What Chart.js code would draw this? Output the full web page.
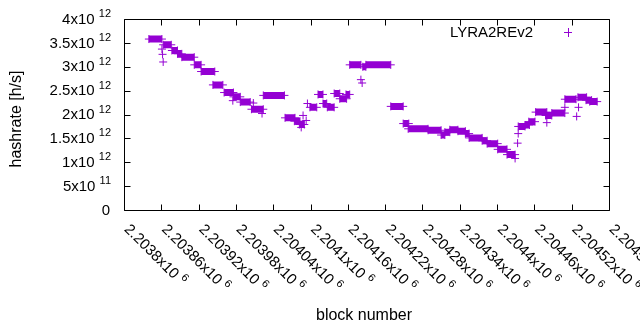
<!DOCTYPE html>
<html>
<head>
<meta charset="utf-8">
<script src="https://cdn.jsdelivr.net/npm/chart.js@4/dist/chart.umd.min.js"></script>
<style>
  html, body { margin: 0; padding: 0; background: #ffffff; }
  #wrap { width: 640px; height: 330px; }
</style>
</head>
<body>
<div id="wrap"><canvas id="c" width="640" height="330"></canvas></div>
<script>
// ---- data ----
const seriesName = 'LYRA2REv2';

// runs of consecutive blocks with the same hashrate estimate
const segStart = [2203840, 2203863, 2203877, 2203886, 2203893, 2203913, 2203924, 2203943, 2203961, 2203976,
                  2203987, 2204005, 2204024, 2204059, 2204074, 2204082, 2204099, 2204112, 2204120, 2204127,
                  2204138, 2204147, 2204157, 2204163, 2204184, 2204189, 2204229, 2204249, 2204257, 2204289,
                  2204310, 2204316, 2204324, 2204337, 2204349, 2204355, 2204376, 2204384, 2204401, 2204416,
                  2204434, 2204445, 2204451, 2204462, 2204478, 2204488, 2204509, 2204530, 2204543, 2204549];
const segEnd   = [2203861, 2203876, 2203886, 2203893, 2203913, 2203924, 2203946, 2203959, 2203976, 2203987,
                  2204003, 2204024, 2204058, 2204075, 2204083, 2204090, 2204110, 2204120, 2204126, 2204138,
                  2204147, 2204158, 2204163, 2204181, 2204189, 2204229, 2204249, 2204258, 2204289, 2204310,
                  2204316, 2204324, 2204337, 2204349, 2204355, 2204376, 2204384, 2204401, 2204416, 2204429,
                  2204445, 2204452, 2204461, 2204480, 2204488, 2204509, 2204527, 2204544, 2204552, 2204561];
const segValue = [3.58e12, 3.46e12, 3.34e12, 3.27e12, 3.20e12, 3.04e12, 2.90e12, 2.62e12, 2.46e12, 2.37e12,
                  2.26e12, 2.11e12, 2.40e12, 1.93e12, 1.86e12, 1.79e12, 2.15e12, 2.42e12, 2.23e12, 2.15e12,
                  2.44e12, 2.33e12, 2.42e12, 3.04e12, 3.00e12, 3.04e12, 2.17e12, 1.81e12, 1.70e12, 1.67e12,
                  1.57e12, 1.63e12, 1.68e12, 1.65e12, 1.60e12, 1.51e12, 1.45e12, 1.39e12, 1.27e12, 1.16e12,
                  1.75e12, 1.78e12, 1.85e12, 2.05e12, 1.98e12, 2.03e12, 2.32e12, 2.36e12, 2.30e12, 2.27e12];

// isolated blocks
const singleBlock = [2203861, 2203862, 2203863, 2203975, 2204008, 2204022, 2204085, 2204088, 2204093, 2204095,
                     2204181, 2204183, 2204429, 2204433, 2204434, 2204480, 2204509, 2204528, 2204531];
const singleValue = [3.37e12, 3.26e12, 3.10e12, 2.29e12, 2.24e12, 2.02e12, 1.73e12, 1.98e12, 1.875e12, 2.23e12,
                     2.73e12, 2.66e12, 1.08e12, 1.40e12, 1.60e12, 1.83e12, 2.15e12, 1.96e12, 2.15e12];

// tick labels
const xTickValues   = [2203800, 2203860, 2203920, 2203980, 2204040, 2204100, 2204160,
                       2204220, 2204280, 2204340, 2204400, 2204460, 2204520, 2204580];
const xTickMantissa = ['2.2038', '2.20386', '2.20392', '2.20398', '2.20404', '2.2041', '2.20416',
                       '2.20422', '2.20428', '2.20434', '2.2044', '2.20446', '2.20452', '2.20458'];
const xTickExponent = ['6', '6', '6', '6', '6', '6', '6', '6', '6', '6', '6', '6', '6', '6'];
const yTickValues   = [0, 5e11, 1e12, 1.5e12, 2e12, 2.5e12, 3e12, 3.5e12, 4e12];
const yTickMantissa = ['0', '5', '1', '1.5', '2', '2.5', '3', '3.5', '4'];
const yTickExponent = ['', '11', '12', '12', '12', '12', '12', '12', '12'];

const xTitle = 'block number';
const yTitle = 'hashrate [h/s]';

// ---- build library data ----
const segData = [];
for (let i = 0; i < segStart.length; i++) {
  segData.push({ x: segStart[i], y: segValue[i] });
  segData.push({ x: segEnd[i], y: segValue[i] });
  segData.push({ x: segEnd[i], y: null });
}
const singleData = singleBlock.map((b, i) => ({ x: b, y: singleValue[i] }));

const PURPLE = '#9400d3';
const FONT = '"Liberation Sans", Arial, sans-serif';

const decor = {
  id: 'decor',
  afterDraw(chart) {
    const ctx = chart.ctx;
    const a = chart.chartArea;
    const xs = chart.scales.x, ys = chart.scales.y;
    const L = Math.round(a.left) + 0.5, R = Math.round(a.right) + 0.5;
    const T = Math.round(a.top) + 0.5, B = Math.round(a.bottom) + 0.5;
    ctx.save();
    ctx.strokeStyle = '#000';
    ctx.lineWidth = 1;
    ctx.beginPath();
    ctx.rect(L, T, R - L, B - T);
    // ticks
    const tl = 6;
    yTickValues.forEach(v => {
      const y = Math.round(ys.getPixelForValue(v)) + 0.5;
      ctx.moveTo(L, y); ctx.lineTo(L + tl, y);
      ctx.moveTo(R, y); ctx.lineTo(R - tl, y);
    });
    xTickValues.forEach(v => {
      const x = Math.round(xs.getPixelForValue(v)) + 0.5;
      ctx.moveTo(x, B); ctx.lineTo(x, B - tl);
      ctx.moveTo(x, T); ctx.lineTo(x, T + tl);
    });
    ctx.stroke();

    ctx.fillStyle = '#000';
    // y tick labels
    const mainF = '15px ' + FONT, supF = '11px ' + FONT;
    yTickValues.forEach((v, i) => {
      const y = ys.getPixelForValue(v);
      const right = 111;
      ctx.textBaseline = 'middle';
      if (yTickExponent[i]) {
        ctx.font = supF;
        ctx.textAlign = 'right';
        ctx.fillText(yTickExponent[i], right, y - 5);
        const sw = ctx.measureText(yTickExponent[i]).width;
        ctx.font = mainF;
        ctx.fillText(yTickMantissa[i] + 'x10 ', right - sw, y + 0.5);
      } else {
        ctx.font = mainF;
        ctx.textAlign = 'right';
        ctx.fillText(yTickMantissa[i], right - 1, y + 0.5);
      }
    });
    // x tick labels (rotated)
    xTickValues.forEach((v, i) => {
      const x = xs.getPixelForValue(v);
      ctx.save();
      ctx.translate(x + 2.5, a.bottom + 17);
      ctx.rotate(Math.PI / 4);
      ctx.textAlign = 'left';
      ctx.textBaseline = 'middle';
      ctx.font = mainF;
      const t = xTickMantissa[i] + 'x10 ';
      ctx.fillText(t, 0, 0);
      const w = ctx.measureText(t).width;
      ctx.font = supF;
      ctx.fillText(xTickExponent[i], w, -5);
      ctx.restore();
    });
    // axis titles
    ctx.font = '16px ' + FONT;
    ctx.textAlign = 'center';
    ctx.textBaseline = 'middle';
    ctx.fillText(xTitle, 364, 316);
    ctx.save();
    ctx.translate(17, 119);
    ctx.rotate(-Math.PI / 2);
    ctx.fillText(yTitle, 0, 0);
    ctx.restore();
    // key
    ctx.font = mainF;
    ctx.textAlign = 'right';
    ctx.fillText(seriesName, 533, 32.5);
    ctx.strokeStyle = PURPLE;
    ctx.beginPath();
    ctx.moveTo(564, 32.5); ctx.lineTo(572, 32.5);
    ctx.moveTo(568.5, 28); ctx.lineTo(568.5, 37);
    ctx.stroke();
    ctx.restore();
  }
};

new Chart(document.getElementById('c'), {
  type: 'scatter',
  data: {
    datasets: [
      {
        label: seriesName,
        data: segData,
        showLine: true,
        spanGaps: false,
        borderColor: PURPLE,
        backgroundColor: PURPLE,
        borderWidth: 7,
        borderCapStyle: 'butt',
        pointStyle: 'cross',
        pointRadius: 4,
        pointBorderWidth: 1,
        pointBorderColor: PURPLE,
        pointHoverRadius: 4
      },
      {
        label: seriesName + ' single',
        data: singleData,
        showLine: false,
        pointStyle: 'cross',
        pointRadius: 4,
        pointBorderWidth: 1,
        pointBorderColor: PURPLE,
        borderColor: PURPLE,
        backgroundColor: PURPLE
      }
    ]
  },
  options: {
    responsive: false,
    devicePixelRatio: 1,
    animation: false,
    layout: { padding: { left: 124, top: 19, right: 31, bottom: 120 } },
    plugins: { legend: { display: false }, tooltip: { enabled: false } },
    scales: {
      x: { type: 'linear', display: false, min: 2203800, max: 2204580 },
      y: { type: 'linear', display: false, min: 0, max: 4e12 }
    }
  },
  plugins: [decor]
});
</script>
</body>
</html>
